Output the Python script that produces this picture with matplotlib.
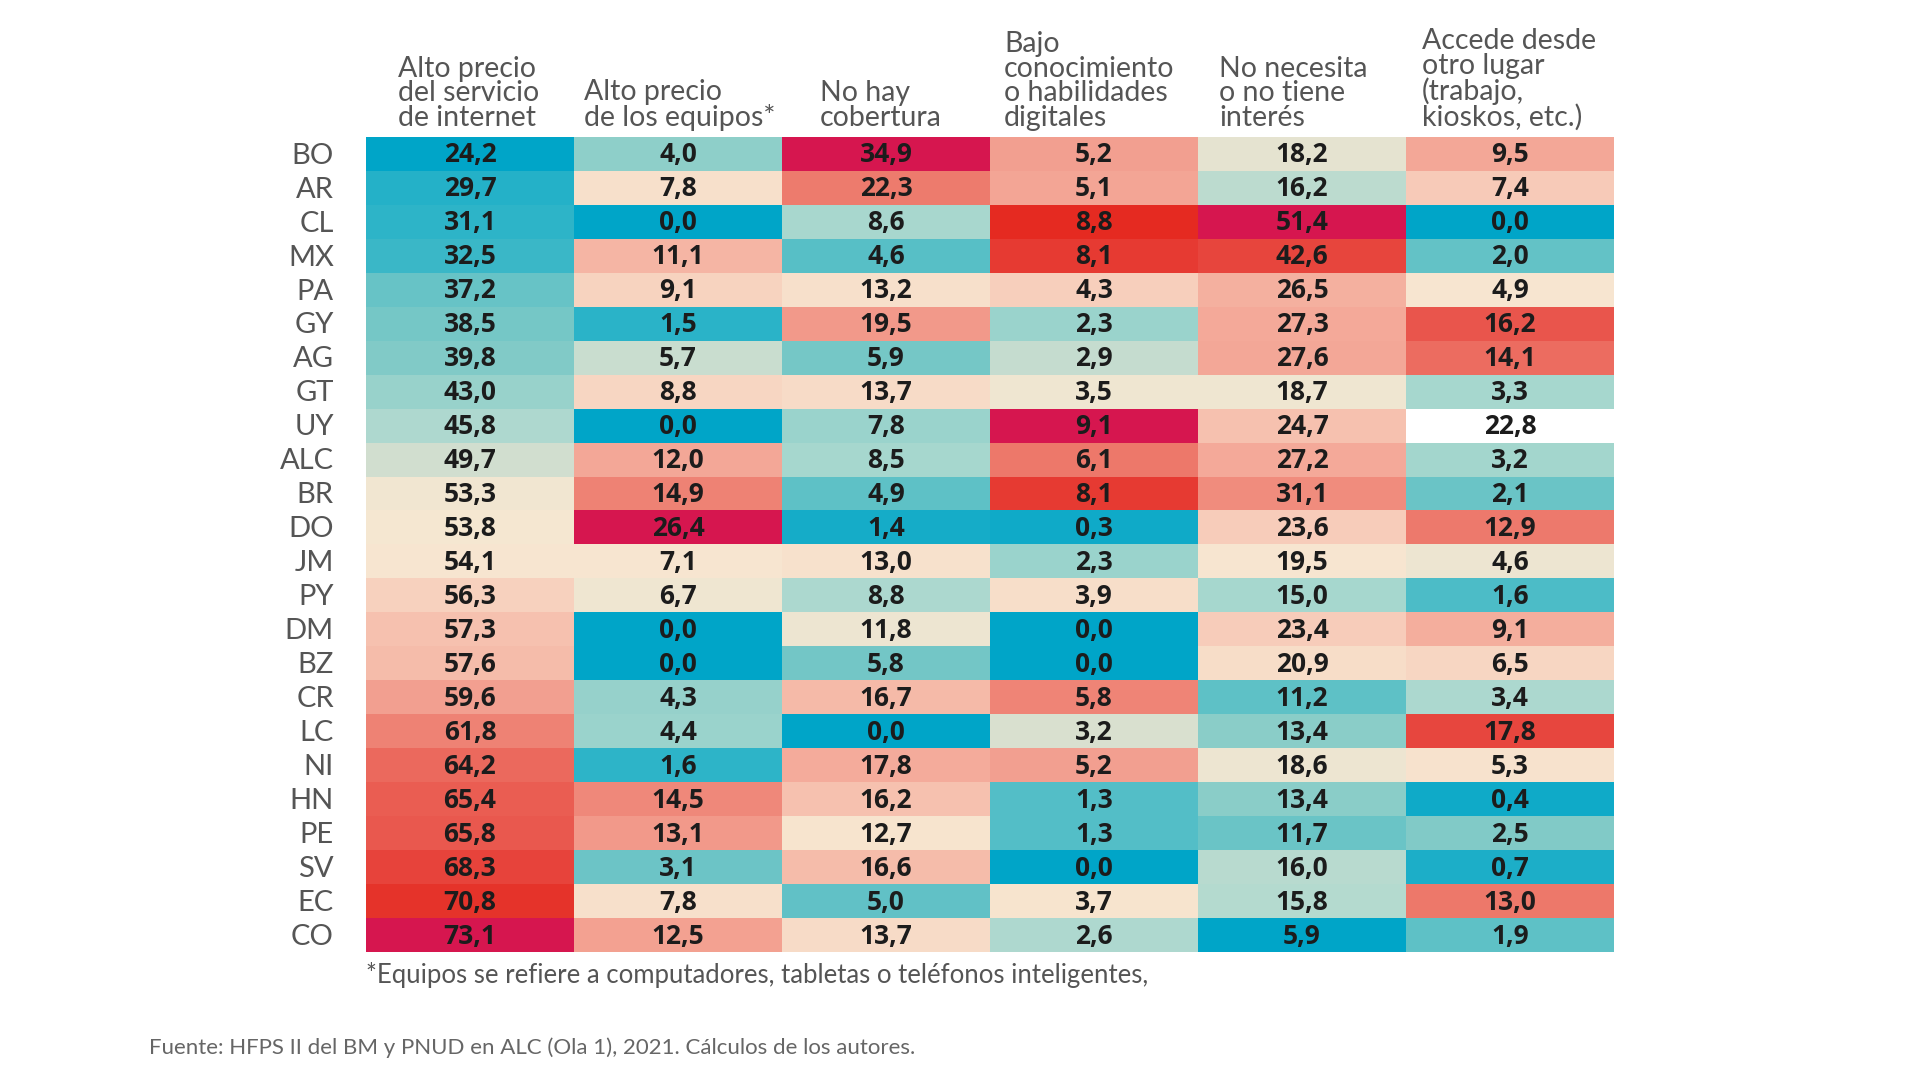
import numpy as np
import matplotlib
matplotlib.use("Agg")
import matplotlib.pyplot as plt
from matplotlib.colors import LinearSegmentedColormap, TwoSlopeNorm, to_rgba

countries = ["BO", "AR", "CL", "MX", "PA", "GY", "AG", "GT", "UY", "ALC", "BR", "DO",
             "JM", "PY", "DM", "BZ", "CR", "LC", "NI", "HN", "PE", "SV", "EC", "CO"]

headers = ["Alto precio\ndel servicio\nde internet",
           "Alto precio\nde los equipos*",
           "No hay\ncobertura",
           "Bajo\nconocimiento\no habilidades\ndigitales",
           "No necesita\no no tiene\ninterés",
           "Accede desde\notro lugar\n(trabajo,\nkioskos, etc.)"]

precio_servicio = [24.2, 29.7, 31.1, 32.5, 37.2, 38.5, 39.8, 43.0, 45.8, 49.7, 53.3, 53.8,
                   54.1, 56.3, 57.3, 57.6, 59.6, 61.8, 64.2, 65.4, 65.8, 68.3, 70.8, 73.1]
precio_equipos = [4.0, 7.8, 0.0, 11.1, 9.1, 1.5, 5.7, 8.8, 0.0, 12.0, 14.9, 26.4,
                  7.1, 6.7, 0.0, 0.0, 4.3, 4.4, 1.6, 14.5, 13.1, 3.1, 7.8, 12.5]
sin_cobertura = [34.9, 22.3, 8.6, 4.6, 13.2, 19.5, 5.9, 13.7, 7.8, 8.5, 4.9, 1.4,
                 13.0, 8.8, 11.8, 5.8, 16.7, 0.0, 17.8, 16.2, 12.7, 16.6, 5.0, 13.7]
bajo_conocimiento = [5.2, 5.1, 8.8, 8.1, 4.3, 2.3, 2.9, 3.5, 9.1, 6.1, 8.1, 0.3,
                     2.3, 3.9, 0.0, 0.0, 5.8, 3.2, 5.2, 1.3, 1.3, 0.0, 3.7, 2.6]
no_necesita = [18.2, 16.2, 51.4, 42.6, 26.5, 27.3, 27.6, 18.7, 24.7, 27.2, 31.1, 23.6,
               19.5, 15.0, 23.4, 20.9, 11.2, 13.4, 18.6, 13.4, 11.7, 16.0, 15.8, 5.9]
otro_lugar = [9.5, 7.4, 0.0, 2.0, 4.9, 16.2, 14.1, 3.3, 22.8, 3.2, 2.1, 12.9,
              4.6, 1.6, 9.1, 6.5, 3.4, 17.8, 5.3, 0.4, 2.5, 0.7, 13.0, 1.9]

# cell left uncoloured in the reference (row label, column index)
blank_cells = [("UY", 5)]

footnote = "*Equipos se refiere a computadores, tabletas o teléfonos inteligentes,"
source = "Fuente: HFPS II del BM y PNUD en ALC (Ola 1), 2021. Cálculos de los autores."

columns = [precio_servicio, precio_equipos, sin_cobertura,
           bajo_conocimiento, no_necesita, otro_lugar]
data = np.array(columns).T  # rows x cols

cmap = LinearSegmentedColormap.from_list("bcr", [
    (0.00, "#00a5c8"),
    (0.12, "#30b5c8"),
    (0.25, "#7cc9c6"),
    (0.35, "#a9d8cf"),
    (0.44, "#d8e0cf"),
    (0.50, "#f7e8d2"),
    (0.56, "#f8d2bf"),
    (0.63, "#f4a898"),
    (0.72, "#ee7c6e"),
    (0.85, "#e84a42"),
    (0.985, "#e5281f"),
    (1.00, "#d6164f"),
])

nrows, ncols = data.shape
rgba = np.zeros((nrows, ncols, 4))
for j in range(ncols):
    col = data[:, j]
    norm = TwoSlopeNorm(vcenter=np.median(col), vmin=col.min(), vmax=col.max())
    rgba[:, j, :] = cmap(norm(col))
for lab, j in blank_cells:
    rgba[countries.index(lab), j, :] = to_rgba("white")

W, H = 1920, 1080
fig = plt.figure(figsize=(W / 100, H / 100), dpi=100)
fig.patch.set_facecolor("white")

left, right, top, bottom = 366, 1614, 137, 952
ax = fig.add_axes([left / W, 1 - bottom / H, (right - left) / W, (bottom - top) / H])
ax.imshow(rgba, aspect="auto", interpolation="nearest",
          extent=(0, ncols, nrows, 0))
ax.set_xlim(0, ncols)
ax.set_ylim(nrows, 0)
ax.axis("off")

num_font = dict(family=["Open Sans", "DejaVu Sans"], fontweight="bold")
lab_font = dict(family=["Lato", "DejaVu Sans"])

for i in range(nrows):
    for j in range(ncols):
        txt = f"{data[i, j]:.1f}".replace(".", ",")
        ax.text(j + 0.5, i + 0.53, txt, ha="center", va="center",
                fontsize=19, color="#1c1c1c", **num_font)
    ax.text(-0.155, i + 0.55, countries[i], ha="right", va="center",
            fontsize=21, color="#555555", **lab_font)

# header texts: left x in figure pixels
header_x = [398, 584, 820, 1004, 1219, 1422]
for hx, h in zip(header_x, headers):
    fig.text(hx / W, 1 - 131 / H, h, ha="left", va="bottom", fontsize=20.5,
             color="#555555", linespacing=0.94, **lab_font)

fig.text(366 / W, 1 - 975 / H, footnote, ha="left", va="center",
         fontsize=18.5, color="#555555", **lab_font)
fig.text(149 / W, 1 - 1048 / H, source, ha="left", va="center",
         fontsize=16, color="#666666", **lab_font)

fig.savefig("out.png", dpi=100, facecolor="white")
